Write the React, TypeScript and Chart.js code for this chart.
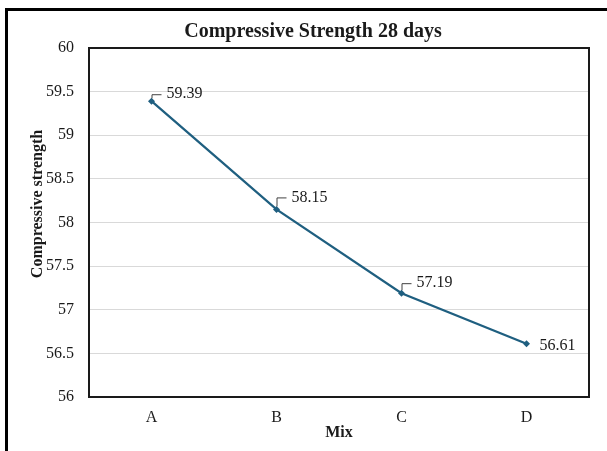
import React, { useEffect, useRef } from "react";
import { Chart, registerables } from "chart.js";

Chart.register(...registerables);

// Mixes and their 28-day compressive strength
const mixes: string[] = ["A", "B", "C", "D"];
const strength28: number[] = [59.39, 58.15, 57.19, 56.61];
const yTickValues: number[] = [56, 56.5, 57, 57.5, 58, 58.5, 59, 59.5, 60];

const chartTitle = "Compressive Strength 28 days";
const xTitle = "Mix";
const yTitle = "Compressive strength";

const SERIF = '"Liberation Serif", "Times New Roman", serif';
const LINE_COLOR = "#1F5F80";
const TEXT_COLOR = "#1a1a1a";

// Value label placement relative to each point (dx, dy) and whether a leader is drawn
const labelDx = [15, 15, 15, 13];
const labelDy = [-7, -12, -10, 2];
const labelLeader = [true, true, true, false];

const decorations = {
  id: "decorations",
  beforeDraw(chart: any) {
    const ctx = chart.ctx;
    ctx.save();
    ctx.fillStyle = "#ffffff";
    ctx.fillRect(0, 0, chart.width, chart.height);
    // outer frame
    ctx.fillStyle = "#000000";
    ctx.fillRect(5, 8, 3, chart.height - 8);
    ctx.fillRect(5, 8, chart.width - 5, 3);
    ctx.restore();
  },
  afterDraw(chart: any) {
    const ctx = chart.ctx;
    const { left, right, top, bottom } = chart.chartArea;
    ctx.save();
    // plot frame
    ctx.strokeStyle = "#1a1a1a";
    ctx.lineWidth = 2;
    ctx.strokeRect(left, top, right - left, bottom - top);

    // titles
    ctx.fillStyle = TEXT_COLOR;
    ctx.textAlign = "center";
    ctx.textBaseline = "alphabetic";
    ctx.font = `bold 20px ${SERIF}`;
    ctx.fillText(chartTitle, 313, 37);
    ctx.font = `bold 16px ${SERIF}`;
    ctx.fillText(xTitle, (left + right) / 2, 437);
    ctx.translate(37.5, 204);
    ctx.rotate(-Math.PI / 2);
    ctx.textBaseline = "middle";
    ctx.fillText(yTitle, 0, 0);
    ctx.restore();
  },
  afterDatasetsDraw(chart: any) {
    const ctx = chart.ctx;
    const meta = chart.getDatasetMeta(0);
    const values = chart.data.datasets[0].data as number[];
    ctx.save();
    ctx.font = `16px ${SERIF}`;
    ctx.fillStyle = TEXT_COLOR;
    ctx.textAlign = "left";
    ctx.textBaseline = "middle";
    meta.data.forEach((pt: any, i: number) => {
      const px = pt.x;
      const py = pt.y;
      const tx = px + labelDx[i];
      const ty = py + labelDy[i];
      if (labelLeader[i]) {
        ctx.strokeStyle = "#404040";
        ctx.lineWidth = 1;
        ctx.beginPath();
        ctx.moveTo(px + 0.5, py - 3);
        ctx.lineTo(px + 0.5, ty + 0.5);
        ctx.lineTo(px + 10, ty + 0.5);
        ctx.stroke();
      }
      ctx.fillText(values[i].toFixed(2), tx, ty);
    });
    ctx.restore();
  },
};

export default function App() {
  const canvasRef = useRef<HTMLCanvasElement | null>(null);

  useEffect(() => {
    if (!canvasRef.current) return;
    const chart = new Chart(canvasRef.current, {
      type: "line",
      data: {
        labels: mixes,
        datasets: [
          {
            label: chartTitle,
            data: strength28,
            borderColor: LINE_COLOR,
            backgroundColor: LINE_COLOR,
            borderWidth: 2.25,
            pointStyle: "rectRot",
            pointRadius: 3.5,
            pointBorderWidth: 0,
            tension: 0,
          },
        ],
      },
      options: {
        responsive: false,
        animation: false,
        devicePixelRatio: 1,
        layout: { padding: { left: 0, top: 48, right: 18, bottom: 0 } },
        plugins: {
          legend: { display: false },
          title: { display: false },
          tooltip: { enabled: false },
        },
        scales: {
          x: {
            type: "category",
            offset: true,
            grid: { display: false, drawTicks: false },
            border: { display: false },
            ticks: {
              color: TEXT_COLOR,
              font: { family: SERIF, size: 16 },
              padding: 11,
              maxRotation: 0,
            },
            afterFit(scale: any) {
              scale.height = 54;
            },
          },
          y: {
            min: 56,
            max: 60,
            afterBuildTicks(scale: any) {
              scale.ticks = yTickValues.map((v) => ({ value: v }));
            },
            grid: { color: "#d9d9d9", lineWidth: 1, drawTicks: false },
            border: { display: false },
            ticks: {
              color: TEXT_COLOR,
              font: { family: SERIF, size: 16 },
              padding: 15,
              callback: (v: any) => String(v),
            },
            afterFit(scale: any) {
              scale.width = 89;
            },
          },
        },
      },
      plugins: [decorations],
    });
    return () => chart.destroy();
  }, []);

  return (
    <div style={{ position: "fixed", left: 0, top: 0, width: 607, height: 451 }}>
      <canvas ref={canvasRef} width={607} height={451} style={{ display: "block" }} />
    </div>
  );
}
